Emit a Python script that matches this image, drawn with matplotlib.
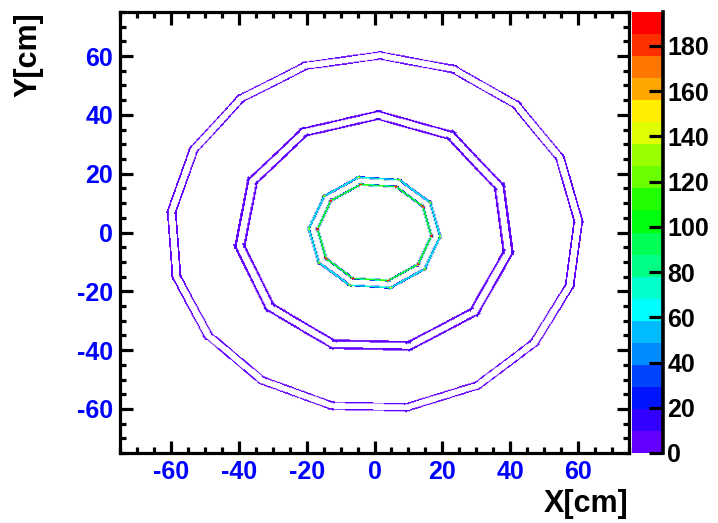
import numpy as np
import matplotlib
matplotlib.use("Agg")
import matplotlib.pyplot as plt
from matplotlib.colors import ListedColormap, BoundaryNorm
from matplotlib.ticker import MultipleLocator
from matplotlib.lines import Line2D
import colorsys

# ---------------- data ----------------
ring_sides = [10, 11, 17]                 # staves per barrel layer
ring_phase_deg = [104.0, 88.5, 88.5]      # angle of first polygon corner
layer_apothem_in = [16.0, 37.0, 58.0]     # cm, inner sensor plane
layer_apothem_out = [18.4, 39.6, 60.4]    # cm, outer sensor plane
hits_in_layer = [130, 8, 4]               # counts per fully covered bin
hits_out_layer = [85, 8, 4]
edge_overlap = [0.05, 0.035, 0.035]       # stave overlap at the corners
plane_thickness = [0.5, 0.45, 0.36]       # cm

x_range = [-75.0, 75.0]
y_range = [-75.0, 75.0]
n_bins = 500
z_max = 195.0
n_levels = 20
x_ticks = [-60, -40, -20, 0, 20, 40, 60]
y_ticks = [-60, -40, -20, 0, 20, 40, 60]
z_ticks = [0, 20, 40, 60, 80, 100, 120, 140, 160, 180]

# ---------------- histogram filling ----------------
step = 0.01
binw = (x_range[1] - x_range[0]) / n_bins
xs, ys, ws = [], [], []
for N, ph, a_i, a_o, c_i, c_o, ov, th in zip(ring_sides, ring_phase_deg,
                                              layer_apothem_in, layer_apothem_out,
                                              hits_in_layer, hits_out_layer,
                                              edge_overlap, plane_thickness):
    tracks = np.linspace(-th / 2, th / 2, 6)
    for a, c in ((a_i, c_i), (a_o, c_o)):
        for off in tracks:
            aa = a + off
            R = aa / np.cos(np.pi / N)
            ang = np.deg2rad(ph + 360.0 / N * np.arange(N + 1))
            vx, vy = R * np.cos(ang), R * np.sin(ang)
            for k in range(N):
                p0 = np.array([vx[k], vy[k]])
                p1 = np.array([vx[k + 1], vy[k + 1]])
                d = p1 - p0
                q0 = p0 - ov * d
                q1 = p1 + ov * d
                L = np.hypot(*(q1 - q0))
                n = int(L / step)
                t = (np.arange(n) + 0.5) / n
                xs.append(q0[0] + t * (q1 - q0)[0])
                ys.append(q0[1] + t * (q1 - q0)[1])
                ws.append(np.full(n, c * (L / n) * (th / len(tracks)) / binw ** 2))
xs = np.concatenate(xs); ys = np.concatenate(ys); ws = np.concatenate(ws)
H, xe, ye = np.histogram2d(xs, ys, bins=n_bins, range=[x_range, y_range], weights=ws)
H = np.floor(H)
Hm = np.ma.masked_less_equal(H, 0)

# ---------------- ROOT "pretty" palette, 20 contours ----------------
cols = []
for j in range(n_levels):
    i = int((j + 0.99) * 50 / n_levels)
    hue = (280.0 - (i + 1) * 5.6) % 360.0
    cols.append(colorsys.hls_to_rgb(hue / 360.0, 0.5, 1.0))
cmap = ListedColormap(cols)
cmap.set_bad((1, 1, 1, 0))
norm = BoundaryNorm(np.linspace(0, z_max, n_levels + 1), n_levels, clip=True)

# ---------------- figure ----------------
plt.rcParams["font.family"] = ["Liberation Sans", "DejaVu Sans"]
plt.rcParams["font.weight"] = "bold"
plt.rcParams["axes.unicode_minus"] = False

W, Hpx = 718, 523
fig = plt.figure(figsize=(W / 100, Hpx / 100), dpi=100)
ax = fig.add_axes([120 / W, 70 / Hpx, 509 / W, 441 / Hpx])
im = ax.imshow(Hm.T, origin="lower", extent=[xe[0], xe[-1], ye[0], ye[-1]],
               aspect="auto", cmap=cmap, norm=norm,
               interpolation="antialiased", interpolation_stage="rgba")
ax.set_xlim(x_range)
ax.set_ylim(y_range)
for s in ax.spines.values():
    s.set_linewidth(2.3)
ax.set_xticks(x_ticks)
ax.set_yticks(y_ticks)
ax.xaxis.set_minor_locator(MultipleLocator(5))
ax.yaxis.set_minor_locator(MultipleLocator(5))
ax.tick_params(which="both", direction="in", top=True, right=True,
               width=2.3, color="black", labelcolor="blue", labelsize=18)
ax.tick_params(which="major", length=9)
ax.tick_params(which="minor", length=4.5)
ax.tick_params(axis="x", pad=5)
ax.tick_params(axis="y", pad=5)

cax = fig.add_axes([632 / W, 70 / Hpx, 31 / W, 441 / Hpx])
cb = fig.colorbar(im, cax=cax, ticks=z_ticks)
cb.outline.set_visible(False)
cb.minorticks_off()
cax.tick_params(direction="in", length=10, width=2.3, labelsize=18, pad=3,
                right=True, left=False, color="black", labelcolor="black")
cax.add_line(Line2D([1, 1], [0, 1], transform=cax.transAxes, color="black",
                    lw=2.6, clip_on=False))

fig.text(628 / W, 1 - 489 / Hpx, "X[cm]", ha="right", va="top",
         fontsize=22, fontweight="bold")
fig.text(13 / W, 1 - 12 / Hpx, "Y[cm]", rotation=90, ha="left", va="top",
         fontsize=22, fontweight="bold")

fig.savefig("out.png", dpi=100)
